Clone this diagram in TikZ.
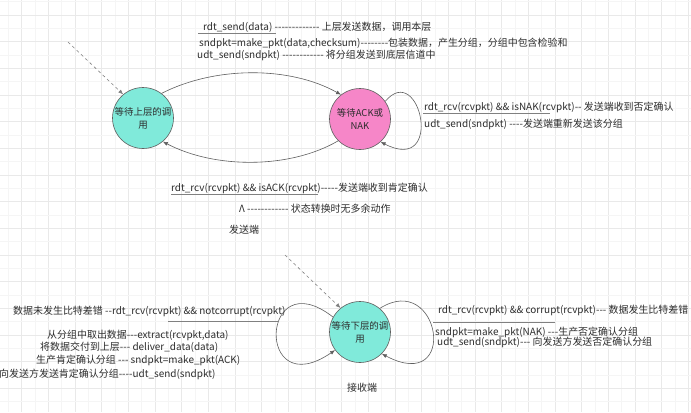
\documentclass[tikz,border=0pt]{standalone}
\usepackage{fontspec}
\newfontfamily\cjk{Noto Sans CJK SC}
\usetikzlibrary{arrows.meta}

\definecolor{waitcyan}{RGB}{128,234,218}
\definecolor{waitpink}{RGB}{246,134,200}
\definecolor{ink}{RGB}{45,45,45}
\definecolor{edgegray}{RGB}{95,95,95}

\tikzset{
  waitstate/.style={circle, draw=edgegray, line width=0.6pt, minimum size=61bp,
    inner sep=0pt, align=center, text=ink, font=\cjk\fontsize{9.5}{13}\selectfont},
  lbl/.style={anchor=west, inner sep=0pt, text=ink, font=\cjk\fontsize{10}{12}\selectfont},
  trans/.style={draw=edgegray, line width=0.6pt, -{Latex[length=5pt,width=4pt]}},
  initarrow/.style={trans, dashed, draw=gray},
  uline/.style={draw=gray, line width=0.6pt},
  minorgrid/.style={draw=gray!8, line width=0.5pt},
  majorgrid/.style={draw=gray!17, line width=0.5pt},
}

\begin{document}
\begin{tikzpicture}[x=1bp, y=1bp]
    \useasboundingbox (0,0) rectangle (691,-412);
    \fill[white] (0,0) rectangle (691,-412);
    % background grid
    \foreach \k in {0,...,51} {
        \ifodd\k \draw[majorgrid] ({8.33+13.333*\k},0) -- ({8.33+13.333*\k},-412);
        \else \draw[minorgrid] ({8.33+13.333*\k},0) -- ({8.33+13.333*\k},-412); \fi
    }
    \foreach \k in {0,...,30} {
        \ifodd\k \draw[majorgrid] (0,{-1.67-13.333*\k}) -- (691,{-1.67-13.333*\k});
        \else \draw[minorgrid] (0,{-1.67-13.333*\k}) -- (691,{-1.67-13.333*\k}); \fi
    }

    % sender
    \node[waitstate, fill=waitcyan] (waitup) at (143,-118) {等待上层的调\\用};
    \node[waitstate, fill=waitpink] (waitack) at (360,-119) {等待ACK或\\NAK};
    \coordinate (sendstart) at (68,-42);
    \draw[initarrow] (sendstart) -- (waitup.130);
    \draw[trans] (waitup.53) .. controls (215,-66) and (290,-66) .. (waitack.128);
    \draw[trans] (waitack.225) .. controls (290,-169) and (215,-169) .. (waitup.-50);
    \draw[trans] (waitack.35) .. controls (420,-60) and (445,-175) .. (waitack.-48);

    \node[lbl] (sendtxt) at (203,-27) {rdt\_send(data) ------------- 上层发送数据，调用本层};
    \draw[uline] (198,-33) -- (276,-33);
    \node[lbl] (maketxt) at (199,-43) {sndpkt=make\_pkt(data,checksum)--------包装数据，产生分组，分组中包含检验和};
    \node[lbl] (udttxt) at (197,-55) {udt\_send(sndpkt) ------------ 将分组发送到底层信道中};

    \node[lbl] (naktxt) at (424,-107) {rdt\_rcv(rcvpkt) \&\& isNAK(rcvpkt)-- 发送端收到否定确认};
    \draw[uline] (423,-113) -- (550,-113);
    \node[lbl] (resendtxt) at (424,-124) {udt\_send(sndpkt) ----发送端重新发送该分组};

    \node[lbl] (acktxt) at (171,-188) {rdt\_rcv(rcvpkt) \&\& isACK(rcvpkt)-----发送端收到肯定确认};
    \draw[uline] (171,-194) -- (318,-194);
    \node[lbl] (lambdatxt) at (239,-209) {Λ ------------ 状态转换时无多余动作};
    \node[lbl] (sendside) at (229,-230) {发送端};

    % receiver
    \node[waitstate, fill=waitcyan] (waitdown) at (360,-332) {等待下层的调\\用};
    \coordinate (rcvstart) at (285,-255);
    \draw[initarrow] (rcvstart) -- (waitdown.129);
    \draw[trans] (waitdown.151) .. controls (260,-260) and (255,-405) .. (waitdown.-144);
    \draw[trans] (waitdown.50) .. controls (440,-270) and (460,-395) .. (waitdown.-45);

    \node[lbl] (oktxt) at (13,-311) {数据未发生比特差错 --rdt\_rcv(rcvpkt) \&\& notcorrupt(rcvpkt)};
    \draw[uline] (168,-321) -- (279,-321);
    \node[lbl] (extracttxt) at (47,-335) {从分组中取出数据---extract(rcvpkt,data)};
    \node[lbl] (delivertxt) at (40,-347) {将数据交付到上层--- deliver\_data(data)};
    \node[lbl] (mkacktxt) at (36,-360) {生产肯定确认分组 --- sndpkt=make\_pkt(ACK)};
    \node[lbl] (sndacktxt) at (-1,-374) {向发送方发送肯定确认分组----udt\_send(sndpkt)};

    \node[lbl] (corrtxt) at (438,-310) {rdt\_rcv(rcvpkt) \&\& corrupt(rcvpkt)--- 数据发生比特差错};
    \draw[uline] (433,-322) -- (555,-322);
    \node[lbl] (mknaktxt) at (435,-332) {sndpkt=make\_pkt(NAK) ---生产否定确认分组};
    \node[lbl] (sndnaktxt) at (437,-342) {udt\_send(sndpkt)--- 向发送方发送否定确认分组};
    \node[lbl] (rcvside) at (347,-388) {接收端};
\end{tikzpicture}
\end{document}
